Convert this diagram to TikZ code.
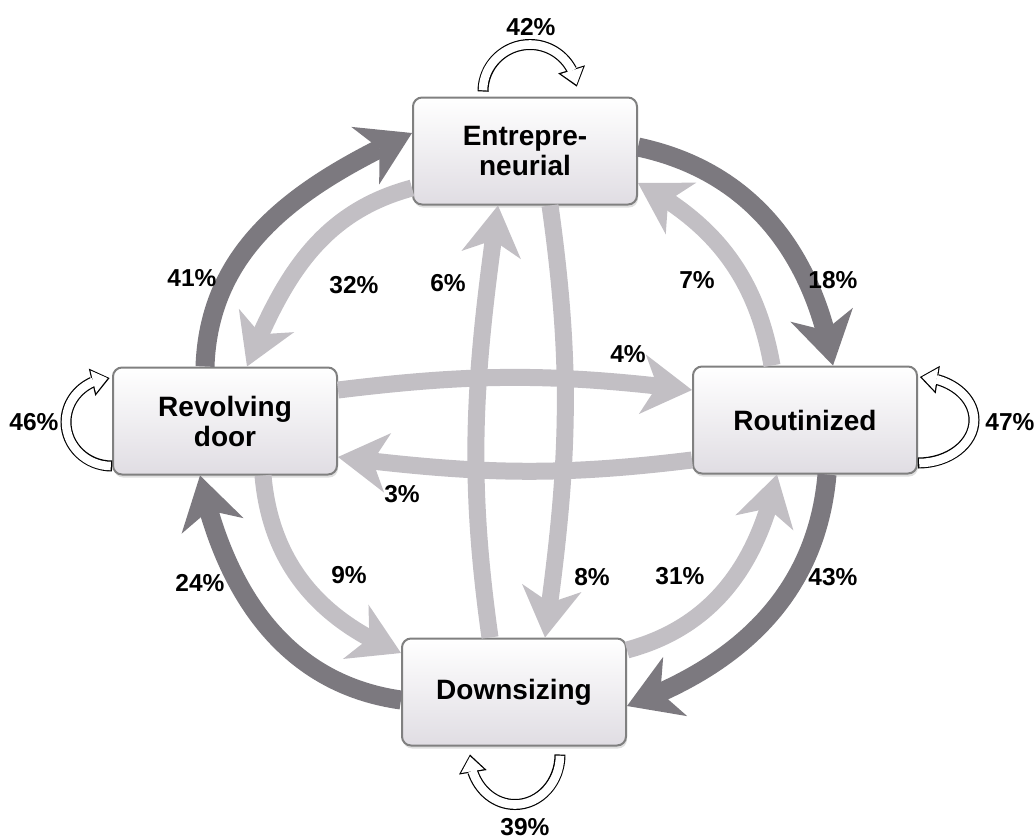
\documentclass[tikz,border=0pt]{standalone}
\usepackage{fontspec}
\setmainfont{Liberation Sans}
\usetikzlibrary{arrows.meta,bending,shadows}

\definecolor{ringgray}{RGB}{124,121,127}
\definecolor{crossgray}{RGB}{194,191,196}
\definecolor{boxedge}{RGB}{128,128,128}
\definecolor{boxbottom}{RGB}{224,221,227}

\begin{document}
\begin{tikzpicture}[x=1pt,y=1pt,
  box/.style={draw=boxedge, line width=2pt, rounded corners=9pt, minimum width=224pt, minimum height=107pt,
    top color=white, bottom color=boxbottom, align=center, font=\fontsize{28}{30}\selectfont\bfseries,
    drop shadow={opacity=0.25, shadow xshift=1pt, shadow yshift=-3pt}},
  pct/.style={font=\fontsize{24.5}{26}\selectfont\bfseries, inner sep=0pt},
  ringarr/.style={draw=ringgray, line width=19pt, -{Stealth[length=52pt, width=64pt, inset=16pt, line width=0pt]}},
  crossarr/.style={draw=crossgray, line width=17pt, -{Stealth[length=50pt, width=60pt, inset=15pt, line width=0pt]}},
  loopout/.style={draw=black, line width=11pt, -{Triangle[length=18pt, width=28pt, line width=0pt]}},
  loopin/.style={draw=white, line width=8.6pt, shorten <=1.2pt, shorten >=1.95pt, -{Triangle[length=14.85pt, width=23.1pt, line width=0pt]}}
]
\useasboundingbox (0,0) rectangle (1036,-839);

\node[box] (ent) at (525,-151) {Entrepre-\\neurial};
\node[box] (rev) at (225,-421) {Revolving\\door};
\node[box] (rout) at (805,-420) {Routinized};
\node[box] (down) at (514,-692) {Downsizing};

% outer ring
\draw[ringarr] ([xshift=-20pt]rev.north) to[out=88,in=205] ([yshift=18pt]ent.west);
\draw[ringarr] ([yshift=4pt]ent.east) to[out=-12,in=100] ([xshift=28pt]rout.north);
\draw[ringarr] ([xshift=22pt]rout.south) to[out=-95,in=20] ([yshift=-14pt]down.east);
\draw[ringarr] ([yshift=-8pt]down.west) to[out=172,in=-78] ([xshift=-25pt]rev.south);

% inner arrows
\draw[crossarr] ([yshift=-37pt]ent.west) to[out=195,in=68] ([xshift=22pt]rev.north);
\draw[crossarr] ([xshift=-33pt]rout.north) to[out=100,in=-28] ([yshift=-32pt]ent.east);
\draw[crossarr] ([xshift=38pt]rev.south) to[out=-85,in=158] ([yshift=39pt]down.west);
\draw[crossarr] ([yshift=42pt]down.east) to[out=15,in=-102] ([xshift=-28pt]rout.south);
\draw[crossarr] ([yshift=31pt]rev.east) to[out=7,in=173] ([yshift=30pt]rout.west);
\draw[crossarr] ([yshift=-40pt]rout.west) to[out=187,in=-7] ([yshift=-36pt]rev.east);
\draw[crossarr] ([xshift=-24pt]down.north) to[out=98,in=-98] ([xshift=-27pt]ent.south);
\draw[crossarr] ([xshift=25pt]ent.south) to[out=-82,in=82] ([xshift=31pt]down.north);

% self loops
\draw[loopout] ([xshift=-42pt,yshift=5pt]ent.north) arc[start angle=180, end angle=6, radius=47];
\draw[loopin] ([xshift=-42pt,yshift=5pt]ent.north) arc[start angle=180, end angle=6, radius=47];
\draw[loopout] ([yshift=-45pt]rev.west) arc[start angle=270, end angle=93, x radius=46, y radius=44];
\draw[loopin] ([yshift=-45pt]rev.west) arc[start angle=270, end angle=93, x radius=46, y radius=44];
\draw[loopout] ([yshift=-43pt]rout.east) arc[start angle=-90, end angle=88, x radius=56, y radius=43];
\draw[loopin] ([yshift=-43pt]rout.east) arc[start angle=-90, end angle=88, x radius=56, y radius=43];
\draw[loopout] ([xshift=46pt,yshift=-8pt]down.south) arc[start angle=0, end angle=-180, x radius=45, y radius=50];
\draw[loopin] ([xshift=46pt,yshift=-8pt]down.south) arc[start angle=0, end angle=-180, x radius=45, y radius=50];

% labels
\node[pct] (p42) at (531,-27) {42\%};
\node[pct] (p41) at (192,-278) {41\%};
\node[pct] (p32) at (354,-285) {32\%};
\node[pct] (p6) at (448,-283) {6\%};
\node[pct] (p7) at (697,-280) {7\%};
\node[pct] (p18) at (833,-280) {18\%};
\node[pct] (p4) at (628,-354) {4\%};
\node[pct] (p3) at (402,-494) {3\%};
\node[pct] (p46) at (34,-422) {46\%};
\node[pct] (p47) at (1010,-422) {47\%};
\node[pct] (p24) at (200,-583) {24\%};
\node[pct] (p9) at (349,-575) {9\%};
\node[pct] (p8) at (592,-577) {8\%};
\node[pct] (p31) at (680,-576) {31\%};
\node[pct] (p43) at (833,-577) {43\%};
\node[pct] (p39) at (525,-827) {39\%};
\end{tikzpicture}
\end{document}
